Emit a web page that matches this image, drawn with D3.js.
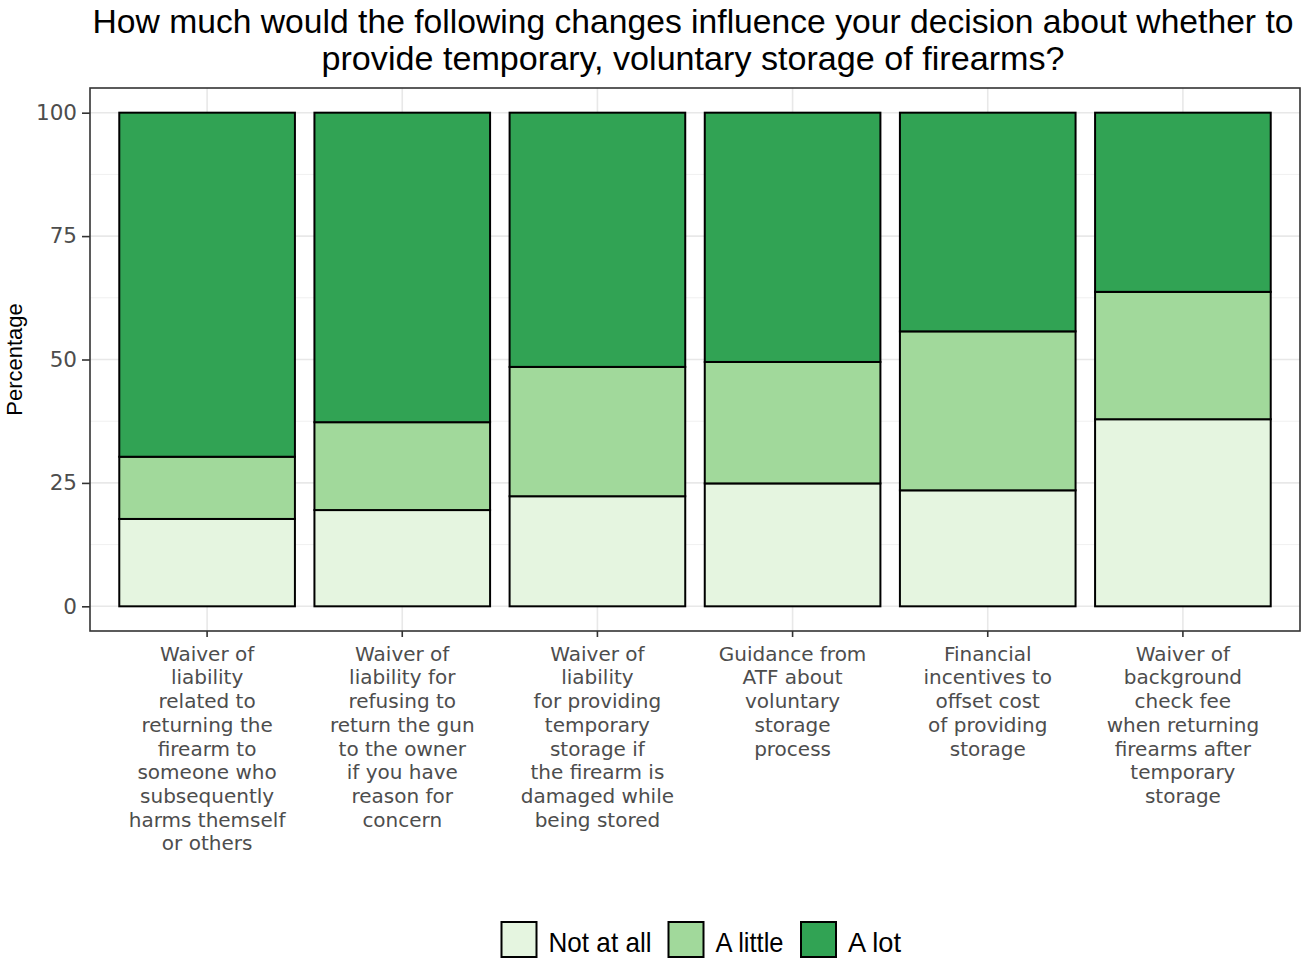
<!DOCTYPE html>
<html>
<head>
<meta charset="utf-8">
<script src="https://cdn.jsdelivr.net/npm/d3@7"></script>
<style>
  html, body { margin: 0; padding: 0; background: #ffffff; }
  svg { display: block; }
</style>
</head>
<body>
<svg id="chart" width="1305" height="963"></svg>
<script>
// ---- Data ----
const categories = [
  "Waiver of liability related to returning the firearm to someone who subsequently harms themself or others",
  "Waiver of liability for refusing to return the gun to the owner if you have reason for concern",
  "Waiver of liability for providing temporary storage if the firearm is damaged while being stored",
  "Guidance from ATF about voluntary storage process",
  "Financial incentives to offset cost of providing storage",
  "Waiver of background check fee when returning firearms after temporary storage"
];
const categoryLines = [
  ["Waiver of", "liability", "related to", "returning the", "firearm to", "someone who", "subsequently", "harms themself", "or others"],
  ["Waiver of", "liability for", "refusing to", "return the gun", "to the owner", "if you have", "reason for", "concern"],
  ["Waiver of", "liability", "for providing", "temporary", "storage if", "the firearm is", "damaged while", "being stored"],
  ["Guidance from", "ATF about", "voluntary", "storage", "process"],
  ["Financial", "incentives to", "offset cost", "of providing", "storage"],
  ["Waiver of", "background", "check fee", "when returning", "firearms after", "temporary", "storage"]
];
const seriesNames = ["Not at all", "A little", "A lot"];
const notAtAll = [17.7, 19.5, 22.3, 24.9, 23.5, 37.9];
const aLittle  = [12.6, 17.8, 26.2, 24.6, 32.2, 25.8];
const aLot     = [69.7, 62.7, 51.5, 50.5, 44.3, 36.3];
const yTicks = [0, 25, 50, 75, 100];
const yMinorTicks = [12.5, 37.5, 62.5, 87.5];
const colors = ["#E5F5E0", "#A1D99B", "#31A354"];
const titleLines = [
  "How much would the following changes influence your decision about whether to",
  "provide temporary, voluntary storage of firearms?"
];

// ---- Build table ----
const table = categories.map((c, i) => ({
  cat: c,
  "Not at all": notAtAll[i],
  "A little": aLittle[i],
  "A lot": aLot[i]
}));
const stacked = d3.stack().keys(seriesNames)(table);

const svg = d3.select("#chart");
const panel = { left: 90, right: 1300, top: 88, bottom: 631 };

const x = d3.scaleBand()
  .domain(categories)
  .range([panel.left, panel.right])
  .paddingInner(0.1)
  .paddingOuter(0.15);
const y = d3.scaleLinear()
  .domain([-5, 105])
  .range([panel.bottom, panel.top]);

// Panel background
svg.append("rect")
  .attr("x", panel.left).attr("y", panel.top)
  .attr("width", panel.right - panel.left).attr("height", panel.bottom - panel.top)
  .attr("fill", "#ffffff");

// Gridlines
const grid = svg.append("g");
grid.selectAll("line.minor").data(yMinorTicks).join("line")
  .attr("x1", panel.left).attr("x2", panel.right)
  .attr("y1", d => y(d)).attr("y2", d => y(d))
  .attr("stroke", "#F0F0F0").attr("stroke-width", 1);
grid.selectAll("line.major").data(yTicks).join("line")
  .attr("x1", panel.left).attr("x2", panel.right)
  .attr("y1", d => y(d)).attr("y2", d => y(d))
  .attr("stroke", "#E8E8E8").attr("stroke-width", 1.6);
grid.selectAll("line.vmajor").data(categories).join("line")
  .attr("x1", d => x(d) + x.bandwidth() / 2).attr("x2", d => x(d) + x.bandwidth() / 2)
  .attr("y1", panel.top).attr("y2", panel.bottom)
  .attr("stroke", "#E8E8E8").attr("stroke-width", 1.6);

// Bars
const layers = svg.append("g").selectAll("g").data(stacked).join("g")
  .attr("fill", (d, i) => colors[i]);
layers.selectAll("rect").data(d => d).join("rect")
  .attr("x", d => x(d.data.cat))
  .attr("width", x.bandwidth())
  .attr("y", d => y(d[1]))
  .attr("height", d => y(d[0]) - y(d[1]))
  .attr("stroke", "#000000")
  .attr("stroke-width", 2);

// Panel border
svg.append("rect")
  .attr("x", panel.left).attr("y", panel.top)
  .attr("width", panel.right - panel.left).attr("height", panel.bottom - panel.top)
  .attr("fill", "none").attr("stroke", "#333333").attr("stroke-width", 1.6);

// Y axis
const yAxis = svg.append("g")
  .attr("transform", `translate(${panel.left},0)`)
  .call(d3.axisLeft(y).tickValues(yTicks).tickSize(8).tickPadding(5).tickFormat(d3.format("d")));
yAxis.select(".domain").remove();
yAxis.selectAll(".tick line").attr("stroke", "#333333").attr("stroke-width", 1.6);
yAxis.selectAll(".tick text")
  .attr("fill", "#4D4D4D")
  .style("font-family", "'DejaVu Sans', sans-serif")
  .style("font-size", "21.5px");

// X axis
const xAxis = svg.append("g")
  .attr("transform", `translate(0,${panel.bottom})`)
  .call(d3.axisBottom(x).tickSize(6).tickFormat(""));
xAxis.select(".domain").remove();
xAxis.selectAll(".tick line").attr("stroke", "#333333").attr("stroke-width", 1.6);
xAxis.selectAll(".tick text").remove();

const xl = svg.append("g");
categories.forEach((c, i) => {
  const t = xl.append("text")
    .attr("x", x(c) + x.bandwidth() / 2)
    .attr("y", 660.7)
    .attr("text-anchor", "middle")
    .attr("fill", "#4D4D4D")
    .style("font-family", "'DejaVu Sans', sans-serif")
    .style("font-size", "20px");
  categoryLines[i].forEach((ln, j) => {
    t.append("tspan")
      .attr("x", x(c) + x.bandwidth() / 2)
      .attr("dy", j === 0 ? 0 : 23.7)
      .text(ln);
  });
});

// Y axis title
svg.append("text")
  .attr("transform", `translate(22,${(panel.top + panel.bottom) / 2}) rotate(-90)`)
  .attr("text-anchor", "middle")
  .attr("fill", "#000000")
  .style("font-family", "'Liberation Sans', Arial, sans-serif")
  .style("font-size", "22px")
  .text("Percentage");

// Title
const titleX = 693;
const titleWidths = [1201, 743];
titleLines.forEach((ln, i) => {
  svg.append("text")
    .attr("x", titleX)
    .attr("y", 33 + i * 37)
    .attr("text-anchor", "middle")
    .attr("fill", "#000000")
    .attr("textLength", titleWidths[i])
    .attr("lengthAdjust", "spacingAndGlyphs")
    .style("font-family", "'Liberation Sans', Arial, sans-serif")
    .style("font-size", "33px")
    .text(ln);
});

// Legend
const legendBoxX = [501.5, 668.5, 801];
const legendTextW = [103, 68, 53];
const legend = svg.append("g");
seriesNames.forEach((s, i) => {
  legend.append("rect")
    .attr("x", legendBoxX[i]).attr("y", 922)
    .attr("width", 35).attr("height", 35)
    .attr("fill", colors[i])
    .attr("stroke", "#000000").attr("stroke-width", 2);
  legend.append("text")
    .attr("x", legendBoxX[i] + 47)
    .attr("y", 951.5)
    .attr("fill", "#000000")
    .attr("textLength", legendTextW[i])
    .attr("lengthAdjust", "spacingAndGlyphs")
    .style("font-family", "'Liberation Sans', Arial, sans-serif")
    .style("font-size", "28px")
    .text(s);
});
</script>
</body>
</html>
